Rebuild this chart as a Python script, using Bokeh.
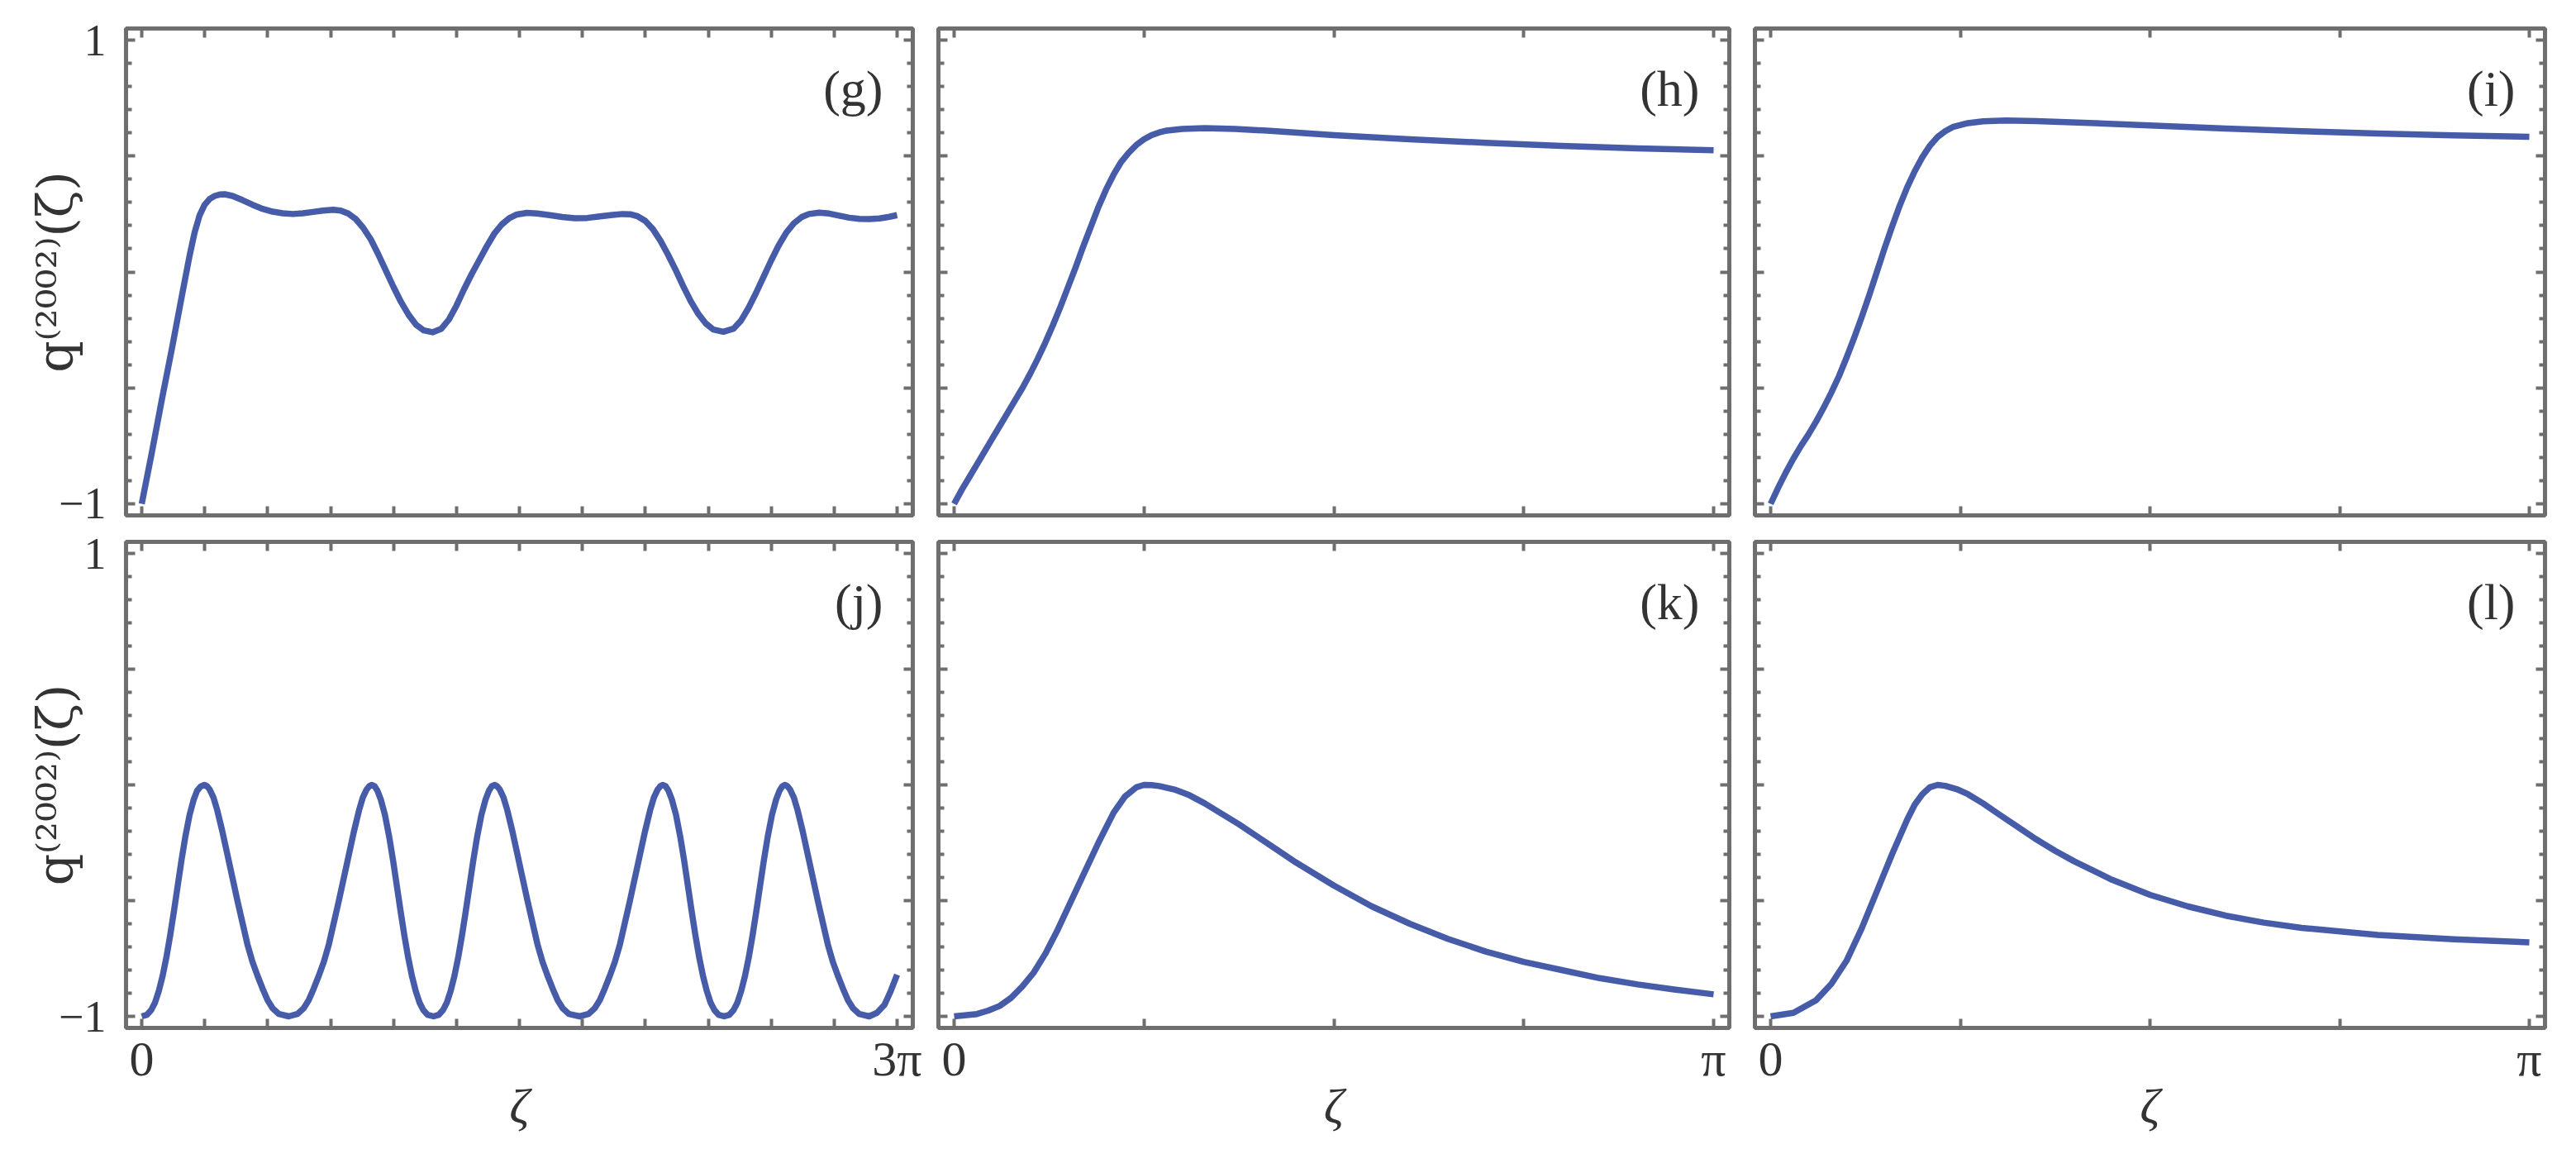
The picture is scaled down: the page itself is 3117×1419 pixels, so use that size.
import numpy as np
from bokeh.plotting import figure
from bokeh.layouts import row, column
from bokeh.models import FixedTicker, LinearAxis, Label, Range1d
from bokeh.embed import file_html
from bokeh.resources import INLINE

# ---------------- data (zeta in units of pi, q values) ----------------
g_x = [0.00, 0.04, 0.08, 0.12, 0.16, 0.19, 0.21, 0.23, 0.25, 0.27, 0.29, 0.31, 0.33, 0.36, 0.40,
       0.44, 0.48, 0.52, 0.56, 0.60, 0.64, 0.68, 0.72, 0.76, 0.79, 0.82, 0.85, 0.88, 0.91, 0.94,
       0.97, 1.00, 1.03, 1.06, 1.09, 1.12, 1.155, 1.19, 1.22, 1.25, 1.28, 1.31, 1.34, 1.37, 1.40,
       1.43, 1.46, 1.49, 1.53, 1.57, 1.62, 1.67, 1.72, 1.77, 1.82, 1.87, 1.91, 1.94, 1.97, 2.00,
       2.03, 2.06, 2.09, 2.12, 2.15, 2.18, 2.21, 2.24, 2.27, 2.31, 2.35, 2.38, 2.41, 2.44, 2.47,
       2.50, 2.53, 2.56, 2.59, 2.62, 2.65, 2.69, 2.73, 2.77, 2.81, 2.85, 2.89, 2.93, 2.97, 3.00]
g_y = [-1.00, -0.78, -0.55, -0.33, -0.10, 0.07, 0.17, 0.245, 0.29, 0.315, 0.328, 0.334, 0.335, 0.328, 0.31,
       0.29, 0.272, 0.26, 0.253, 0.25, 0.253, 0.259, 0.265, 0.268, 0.265, 0.252, 0.228, 0.19, 0.14, 0.075,
       0.005, -0.065, -0.13, -0.185, -0.228, -0.252, -0.26, -0.245, -0.205, -0.145, -0.075, -0.01, 0.05, 0.11, 0.165,
       0.205, 0.232, 0.248, 0.255, 0.252, 0.245, 0.237, 0.232, 0.233, 0.240, 0.246, 0.25, 0.249, 0.24, 0.22,
       0.185, 0.135, 0.075, 0.01, -0.06, -0.125, -0.18, -0.222, -0.248, -0.258, -0.245, -0.21, -0.155, -0.09, -0.02,
       0.05, 0.115, 0.17, 0.21, 0.236, 0.25, 0.256, 0.252, 0.243, 0.234, 0.229, 0.228, 0.231, 0.238, 0.245]

h_x = [0.00, 0.01, 0.02, 0.03, 0.04, 0.05, 0.06, 0.07, 0.08, 0.09, 0.10, 0.11, 0.12, 0.13, 0.14,
       0.15, 0.16, 0.17, 0.18, 0.19, 0.20, 0.21, 0.22, 0.23, 0.24, 0.25, 0.26, 0.27, 0.28, 0.30,
       0.33, 0.37, 0.42, 0.50, 0.60, 0.70, 0.80, 0.90, 1.00]
h_y = [-1.00, -0.94, -0.885, -0.83, -0.775, -0.72, -0.665, -0.61, -0.555, -0.50, -0.44, -0.375, -0.305, -0.23, -0.15,
       -0.065, 0.02, 0.11, 0.195, 0.28, 0.355, 0.42, 0.475, 0.515, 0.548, 0.572, 0.59, 0.602, 0.61, 0.617,
       0.62, 0.617, 0.608, 0.59, 0.572, 0.557, 0.544, 0.533, 0.525]

i_x = [0.00, 0.01, 0.02, 0.03, 0.04, 0.05, 0.06, 0.07, 0.08, 0.09, 0.10, 0.11, 0.12, 0.13, 0.14,
       0.15, 0.16, 0.17, 0.18, 0.19, 0.20, 0.21, 0.22, 0.23, 0.24, 0.26, 0.28, 0.31, 0.35, 0.42,
       0.50, 0.60, 0.70, 0.80, 0.90, 1.00]
i_y = [-1.00, -0.93, -0.865, -0.805, -0.75, -0.70, -0.645, -0.585, -0.52, -0.45, -0.37, -0.285, -0.195, -0.10, 0.00,
       0.10, 0.195, 0.285, 0.365, 0.435, 0.495, 0.545, 0.582, 0.607, 0.625, 0.642, 0.65, 0.653, 0.651, 0.643,
       0.632, 0.619, 0.607, 0.597, 0.589, 0.583]

# panel (j): read segment by segment (trough -> peak -> trough ...)
j_x = ([0.000, 0.021, 0.038, 0.053, 0.068, 0.083, 0.098, 0.113, 0.128, 0.143, 0.158, 0.173, 0.190, 0.206, 0.220, 0.235, 0.249]
       + [0.258, 0.270, 0.285, 0.300, 0.320, 0.340, 0.360, 0.380, 0.400, 0.420, 0.440, 0.460, 0.480, 0.500, 0.520, 0.545, 0.584]
       + [0.618, 0.643, 0.663, 0.683, 0.703, 0.723, 0.743, 0.763, 0.783, 0.803, 0.823, 0.843, 0.863, 0.878, 0.893, 0.905, 0.914]
       + [0.925, 0.936, 0.950, 0.966, 0.983, 0.998, 1.013, 1.028, 1.043, 1.058, 1.073, 1.088, 1.103, 1.118, 1.135, 1.159]
       + [1.180, 1.197, 1.212, 1.227, 1.242, 1.257, 1.272, 1.287, 1.302, 1.317, 1.332, 1.349, 1.365, 1.379, 1.390, 1.401]
       + [1.410, 1.422, 1.437, 1.452, 1.472, 1.492, 1.512, 1.532, 1.552, 1.572, 1.592, 1.612, 1.632, 1.652, 1.672, 1.697, 1.739]
       + [1.774, 1.799, 1.819, 1.839, 1.859, 1.879, 1.899, 1.919, 1.939, 1.959, 1.979, 1.999, 2.019, 2.034, 2.049, 2.061, 2.070]
       + [2.081, 2.092, 2.106, 2.122, 2.139, 2.154, 2.169, 2.184, 2.199, 2.214, 2.229, 2.244, 2.259, 2.274, 2.291, 2.313]
       + [2.334, 2.351, 2.366, 2.381, 2.396, 2.411, 2.426, 2.441, 2.456, 2.471, 2.486, 2.503, 2.519, 2.533, 2.544, 2.554]
       + [2.563, 2.575, 2.590, 2.605, 2.625, 2.645, 2.665, 2.685, 2.705, 2.725, 2.745, 2.765, 2.785, 2.805, 2.825, 2.850, 2.889]
       + [2.920, 2.950, 2.975, 3.000])
j_y = ([-1.000, -0.993, -0.972, -0.940, -0.890, -0.825, -0.745, -0.650, -0.545, -0.435, -0.325, -0.225, -0.130, -0.065, -0.025, -0.006, 0.000]
       + [-0.004, -0.020, -0.055, -0.110, -0.200, -0.300, -0.400, -0.500, -0.595, -0.690, -0.765, -0.825, -0.880, -0.930, -0.965, -0.990, -1.000]
       + [-0.990, -0.965, -0.930, -0.880, -0.825, -0.765, -0.690, -0.595, -0.500, -0.400, -0.300, -0.200, -0.110, -0.055, -0.020, -0.004, 0.000]
       + [-0.006, -0.025, -0.065, -0.130, -0.225, -0.325, -0.435, -0.545, -0.650, -0.745, -0.825, -0.890, -0.940, -0.972, -0.993, -1.000]
       + [-0.993, -0.972, -0.940, -0.890, -0.825, -0.745, -0.650, -0.545, -0.435, -0.325, -0.225, -0.130, -0.065, -0.025, -0.006, 0.000]
       + [-0.004, -0.020, -0.055, -0.110, -0.200, -0.300, -0.400, -0.500, -0.595, -0.690, -0.765, -0.825, -0.880, -0.930, -0.965, -0.990, -1.000]
       + [-0.990, -0.965, -0.930, -0.880, -0.825, -0.765, -0.690, -0.595, -0.500, -0.400, -0.300, -0.200, -0.110, -0.055, -0.020, -0.004, 0.000]
       + [-0.006, -0.025, -0.065, -0.130, -0.225, -0.325, -0.435, -0.545, -0.650, -0.745, -0.825, -0.890, -0.940, -0.972, -0.993, -1.000]
       + [-0.993, -0.972, -0.940, -0.890, -0.825, -0.745, -0.650, -0.545, -0.435, -0.325, -0.225, -0.130, -0.065, -0.025, -0.006, 0.000]
       + [-0.004, -0.020, -0.055, -0.110, -0.200, -0.300, -0.400, -0.500, -0.595, -0.690, -0.765, -0.825, -0.880, -0.930, -0.965, -0.990, -1.000]
       + [-0.985, -0.950, -0.890, -0.820])

k_x = [0.00, 0.03, 0.045, 0.06, 0.075, 0.09, 0.105, 0.12, 0.135, 0.15, 0.17, 0.19, 0.21, 0.225, 0.24,
       0.25, 0.26, 0.27, 0.29, 0.31, 0.33, 0.35, 0.375, 0.40, 0.425, 0.45, 0.475, 0.50, 0.55, 0.60,
       0.65, 0.70, 0.75, 0.80, 0.85, 0.90, 0.95, 1.00]
k_y = [-1.00, -0.99, -0.975, -0.955, -0.92, -0.87, -0.81, -0.73, -0.635, -0.53, -0.39, -0.25, -0.12, -0.05, -0.01,
       0.00, -0.001, -0.005, -0.02, -0.045, -0.08, -0.12, -0.17, -0.225, -0.28, -0.335, -0.385, -0.435, -0.525, -0.60,
       -0.665, -0.72, -0.765, -0.80, -0.835, -0.862, -0.885, -0.905]

l_x = [0.00, 0.03, 0.06, 0.08, 0.10, 0.12, 0.14, 0.16, 0.18, 0.19, 0.20, 0.21, 0.22, 0.23, 0.245,
       0.26, 0.28, 0.30, 0.325, 0.35, 0.375, 0.40, 0.45, 0.50, 0.55, 0.60, 0.65, 0.70, 0.80, 0.90, 1.00]
l_y = [-1.00, -0.985, -0.93, -0.86, -0.76, -0.62, -0.46, -0.30, -0.15, -0.085, -0.04, -0.01, 0.00, -0.004, -0.018,
       -0.04, -0.08, -0.125, -0.18, -0.235, -0.285, -0.33, -0.41, -0.475, -0.525, -0.565, -0.595, -0.618, -0.648, -0.667, -0.68]

panel_names = ["(g)", "(h)", "(i)", "(j)", "(k)", "(l)"]
x_max = [3, 1, 1, 3, 1, 1]
x_end_labels = ["3π", "π", "π", "3π", "π", "π"]
y_tick_labels = {-1: "−1", 1: "1"}
y_label = "q⁽²⁰⁰²⁾(ζ)"
x_label = "ζ"

series = [(g_x, g_y), (h_x, h_y), (i_x, i_y), (j_x, j_y), (k_x, k_y), (l_x, l_y)]

# ---------------- style ----------------
GRAY = "#6e6e6e"
TXT = "#333333"
BLUE = "#465ca8"
FONT = "Liberation Serif"

frame_w = [952, 957, 956]
frame_h = [589, 588]
y_major = [-1, -0.5, 0, 0.5, 1]
y_minor = [-0.9, -0.8, -0.7, -0.6, -0.4, -0.3, -0.2, -0.1, 0.1, 0.2, 0.3, 0.4, 0.6, 0.7, 0.8, 0.9]


def style_axis(ax, tick_in, minor_in):
    ax.axis_line_color = None
    ax.major_tick_in = tick_in
    ax.major_tick_out = 0
    ax.minor_tick_in = minor_in
    ax.minor_tick_out = 0
    ax.major_tick_line_color = GRAY
    ax.minor_tick_line_color = GRAY
    ax.major_tick_line_width = 4
    ax.minor_tick_line_width = 4
    ax.major_label_text_font = FONT
    ax.major_label_text_color = TXT
    ax.axis_label_text_font = FONT
    ax.axis_label_text_color = TXT


def blank(ax, ticks):
    ax.major_label_overrides = {t: "" for t in ticks}
    ax.major_label_standoff = 0
    ax.major_label_text_font_size = "0px"


figs = []
for idx in range(6):
    r, c = divmod(idx, 3)
    xm = x_max[idx]
    fw = frame_w[c]
    fh = frame_h[r]
    pad = xm * 19.0 / (fw - 38)
    p = figure(frame_width=fw, frame_height=fh, output_backend="svg", toolbar_location=None,
               x_range=Range1d(-pad, xm + pad), y_range=Range1d(-1.05, 1.05),
               x_axis_location=None, y_axis_location=None,
               min_border_left=152 if c == 0 else 16,
               min_border_right=20 if c == 2 else 15,
               min_border_top=34 if r == 0 else 17,
               min_border_bottom=15 if r == 0 else 150)
    p.background_fill_color = "white"
    p.border_fill_color = "white"
    p.outline_line_color = GRAY
    p.outline_line_width = 5
    p.outline_line_alpha = 1.0
    p.grid.visible = False

    x_major = [0, xm]
    x_minor = [q / 4 for q in range(1, 4 * xm)]

    # left axis
    la = LinearAxis(ticker=FixedTicker(ticks=y_major, minor_ticks=y_minor))
    style_axis(la, 11, 7)
    if c == 0:
        la.major_label_overrides = {-1: y_tick_labels[-1], -0.5: "", 0: "", 0.5: "", 1: y_tick_labels[1]}
        la.major_label_text_font_size = "54px"
        la.major_label_standoff = 24
        la.axis_label = y_label
        la.axis_label_text_font = "DejaVu Serif"
        la.axis_label_text_font_size = "60px"
        la.axis_label_text_font_style = "normal"
        la.axis_label_standoff = -34
    else:
        blank(la, y_major)
    p.add_layout(la, "left")

    # right axis
    ra = LinearAxis(ticker=FixedTicker(ticks=y_major, minor_ticks=y_minor))
    style_axis(ra, 11, 7)
    blank(ra, y_major)
    p.add_layout(ra, "right")

    # bottom axis
    ba = LinearAxis(ticker=FixedTicker(ticks=x_major, minor_ticks=x_minor))
    style_axis(ba, 11, 11)
    if r == 1:
        ba.major_label_overrides = {0: "0", xm: x_end_labels[idx]}
        ba.major_label_text_font_size = "60px"
        ba.major_label_standoff = 4
        ba.axis_label = x_label
        ba.axis_label_text_font_size = "60px"
        ba.axis_label_text_font_style = "italic"
        ba.axis_label_standoff = -12
    else:
        blank(ba, x_major)
    p.add_layout(ba, "below")

    # top axis
    ta = LinearAxis(ticker=FixedTicker(ticks=x_major, minor_ticks=x_minor))
    style_axis(ta, 11, 11)
    blank(ta, x_major)
    p.add_layout(ta, "above")

    xs, ys = series[idx]
    p.line(xs, ys, line_color=BLUE, line_width=7.5, line_join="round")

    p.add_layout(Label(x=xm, y=0.79, x_offset=-17, text=panel_names[idx], text_align="right",
                       text_baseline="middle", text_font=FONT, text_font_size="62px",
                       text_color=TXT))
    figs.append(p)

layout = column(row(*figs[:3]), row(*figs[3:]))
open("out.html", "w").write(file_html(layout, INLINE))
